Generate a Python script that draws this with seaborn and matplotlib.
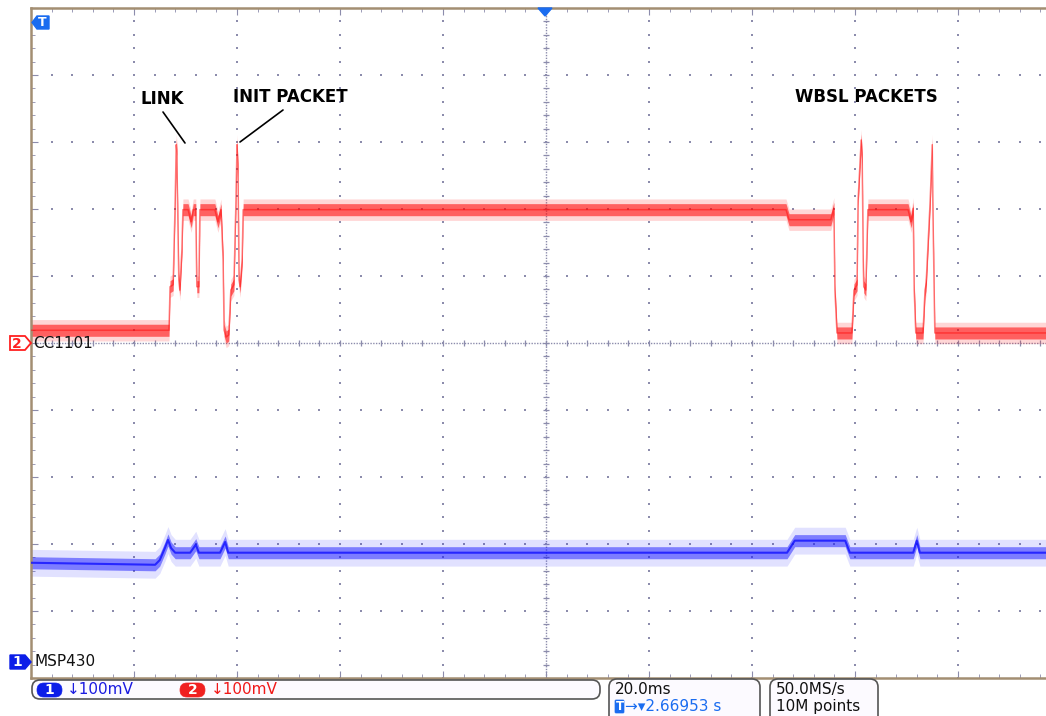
import numpy as np
import pandas as pd
import seaborn as sns
import matplotlib.pyplot as plt
from matplotlib.patches import Polygon, FancyBboxPatch
from matplotlib.lines import Line2D
from matplotlib.transforms import Affine2D

# channel 2 (CC1101) - time in ms, level in mV above its ground marker
cc_t = [0, 26.8, 27.0, 27.6, 28.0, 28.2, 28.3, 28.7, 28.9, 29.3, 29.5, 30.5, 31.1, 31.5,
        32.0, 32.2, 32.6, 32.8, 35.7, 36.3, 36.9, 37.3, 37.5, 37.9, 38.4, 38.8, 39.4, 39.8,
        40.0, 40.2, 40.4, 40.6, 41.0, 41.2, 146.6, 147.2, 155.3, 155.9, 156.1, 156.5,
        159.4, 159.8, 160.4, 160.6, 161.2, 161.4, 161.6, 161.7, 162.1, 162.5, 170.3,
        170.9, 171.3, 171.5, 171.8, 173.2, 173.6, 173.8, 174.6, 175.0, 175.1, 175.5, 200]
cc_mv = [19, 19, 84, 87, 213, 296, 288, 94, 79, 139, 199, 199, 181, 199,
         199, 84, 84, 199, 199, 181, 199, 124, 19, 9, 12, 79, 87, 213,
         296, 258, 94, 84, 124, 199, 199, 184, 184, 201, 79, 15,
         15, 79, 87, 213, 303, 273, 124, 84, 79, 199, 199,
         181, 201, 79, 15, 15, 79, 87, 213, 296, 213, 15, 15]

# channel 1 (MSP430)
msp_t = [0, 24.1, 25.0, 26.0, 26.6, 27.2, 28.0, 30.9, 32.0, 32.6, 36.7, 37.7, 38.3,
         146.8, 148.3, 158.1, 159.0, 171.3, 172.0, 172.6, 200]
msp_mv = [148, 145, 152, 170, 182, 170, 163, 163, 175, 163, 163, 179, 163,
          163, 181, 181, 163, 163, 181, 163, 163]

ms_per_div = 20
mv_per_div = 100
CH2_OFFSET = 0.0      # divisions from screen centre
CH1_OFFSET = -4.76

sns.set_style('white')
plt.rcParams['font.family'] = ['DejaVu Sans']

W, H = 1046, 716
fig = plt.figure(figsize=(W / 100, H / 100), dpi=100)
fig.patch.set_facecolor('white')
# pixel coords, y down
pxT = Affine2D().scale(1 / W, -1 / H).translate(0, 1) + fig.transFigure

ax = fig.add_axes([31 / W, 1 - 678 / H, 1030 / W, 670 / H])
ax.set_xlim(0, 10 * ms_per_div)
ax.set_ylim(-5, 5)

# graticule
gcol = '#8c8cac'
minor_y = np.arange(-5, 5.001, 0.2)
minor_x = np.arange(0, 200.01, 4)
for k in range(1, 10):
    if k == 5:
        continue
    ax.scatter(np.full(minor_y.size, k * ms_per_div), minor_y, s=3, marker='s',
               color=gcol, linewidths=0, zorder=1)
for j in range(-4, 5):
    if j == 0:
        continue
    ax.scatter(minor_x, np.full(minor_x.size, j), s=3, marker='s',
               color=gcol, linewidths=0, zorder=1)
ax.axvline(100, ls=(0, (1, 1)), color=gcol, lw=1, zorder=1)
ax.axhline(0, ls=(0, (1, 1)), color=gcol, lw=1, zorder=1)
ax.scatter(np.full(minor_y.size, 100), minor_y, marker='_', s=14, color=gcol, lw=0.9, zorder=1)
ax.scatter(minor_x, np.zeros(minor_x.size), marker='|', s=14, color=gcol, lw=0.9, zorder=1)

ax.set_xticks(np.arange(0, 201, 20))
ax.set_xticks(minor_x, minor=True)
ax.set_yticks(np.arange(-5, 6, 1))
ax.set_yticks(minor_y, minor=True)
ax.tick_params(which='both', direction='in', top=True, bottom=True, left=True, right=False,
               labelbottom=False, labelleft=False, color=gcol)
ax.tick_params(which='major', length=5)
ax.tick_params(which='minor', length=3)
for side in ['left', 'top', 'bottom']:
    ax.spines[side].set_color('#a38e72')
    ax.spines[side].set_linewidth(1.8)
ax.spines['right'].set_visible(False)

# traces
cc = pd.DataFrame({'t': cc_t, 'mv': cc_mv})
cc['div'] = cc['mv'] / mv_per_div + CH2_OFFSET
msp = pd.DataFrame({'t': msp_t, 'mv': msp_mv})
msp['div'] = msp['mv'] / mv_per_div + CH1_OFFSET

ax.fill_between(cc['t'], cc['div'] - 0.16, cc['div'] + 0.16, color='#ff0000', alpha=0.16, lw=0, zorder=2)
ax.fill_between(cc['t'], cc['div'] - 0.09, cc['div'] + 0.09, color='#ff0000', alpha=0.55, lw=0, zorder=2)
sns.lineplot(data=cc, x='t', y='div', color='#ff1010', lw=1.1, alpha=0.55,
             estimator=None, sort=False, ax=ax, zorder=3)

ax.fill_between(msp['t'], msp['div'] - 0.2, msp['div'] + 0.2, color='#1a1aff', alpha=0.13, lw=0, zorder=2)
ax.fill_between(msp['t'], msp['div'] - 0.09, msp['div'] + 0.09, color='#1a1aff', alpha=0.5, lw=0, zorder=2)
sns.lineplot(data=msp, x='t', y='div', color='#1010ff', lw=1.5, alpha=0.8,
             estimator=None, sort=False, ax=ax, zorder=3)
ax.set_xlabel('')
ax.set_ylabel('')

# annotations
lab = dict(fontsize=12, fontweight='bold', color='black', va='center', ha='left', transform=pxT)
fig.text(141, 99.5, 'LINK', **lab)
fig.text(233, 97.5, 'INIT PACKET', **lab)
fig.text(795, 97, 'WBSL PACKETS', **lab)
fig.add_artist(Line2D([163, 185], [112, 143], color='black', lw=1.2, transform=pxT))
fig.add_artist(Line2D([283, 240], [110, 142], color='black', lw=1.2, transform=pxT))

# channel markers
fig.add_artist(Polygon([(10, 336), (25, 336), (31, 343), (25, 350), (10, 350)], closed=True,
                       facecolor='white', edgecolor='#ff2020', lw=1.3, transform=pxT))
fig.text(17, 343.5, '2', color='#ff2020', fontsize=10, fontweight='bold', ha='center', va='center', transform=pxT)
fig.text(33, 343, 'CC1101', color='#111111', fontsize=11, ha='left', va='center', transform=pxT)

fig.add_artist(Polygon([(10, 655), (25, 655), (31, 662), (25, 669), (10, 669)], closed=True,
                       facecolor='#0c1ee8', edgecolor='#0c1ee8', lw=1, transform=pxT))
fig.text(17, 662.5, '1', color='white', fontsize=10, fontweight='bold', ha='center', va='center', transform=pxT)
fig.text(35, 662, 'MSP430', color='#111111', fontsize=11, ha='left', va='center', transform=pxT)

# trigger markers
fig.add_artist(Polygon([(32, 22.5), (37, 16), (49, 16), (49, 29), (37, 29)], closed=True,
                       facecolor='#1a6cf0', edgecolor='#1a6cf0', transform=pxT))
fig.text(42.5, 23, 'T', color='white', fontsize=9, fontweight='bold', ha='center', va='center', transform=pxT)
fig.add_artist(Polygon([(538, 8), (552, 8), (545, 16)], closed=True,
                       facecolor='#1a6cf0', edgecolor='#1a6cf0', transform=pxT))

# status bar
def box(x, y, w, h, r, fc, ec, lw=1.2):
    fig.add_artist(FancyBboxPatch((x, y), w, h, boxstyle=f'round,pad=0,rounding_size={r}',
                                  facecolor=fc, edgecolor=ec, lw=lw, transform=pxT))

box(32, 680, 568, 19, 8, '#fcfaff', '#555555')
box(37, 683, 25, 14, 7, '#0c1ee8', '#0c1ee8', 0.5)
fig.text(49.5, 690.5, '1', color='white', fontsize=10, fontweight='bold', ha='center', va='center', transform=pxT)
fig.text(67, 690, '↓100mV', color='#1a1ae0', fontsize=11, ha='left', va='center', transform=pxT)
box(180, 683, 25, 14, 7, '#f02020', '#f02020', 0.5)
fig.text(192.5, 690.5, '2', color='white', fontsize=10, fontweight='bold', ha='center', va='center', transform=pxT)
fig.text(211, 690, '↓100mV', color='#f01818', fontsize=11, ha='left', va='center', transform=pxT)

box(609, 679, 151, 45, 8, '#fcfaff', '#555555')
fig.text(615, 689.5, '20.0ms', color='#111111', fontsize=11, ha='left', va='center', transform=pxT)
box(615, 700, 9, 13, 1, '#1a6cf0', '#1a6cf0', 0.5)
fig.text(619.5, 706.5, 'T', color='white', fontsize=8.5, fontweight='bold', ha='center', va='center', transform=pxT)
fig.text(625, 706.5, '→▾2.66953 s', color='#1a6cf0', fontsize=11, ha='left', va='center', transform=pxT)

box(770, 679, 108, 45, 8, '#fcfaff', '#555555')
fig.text(776, 689.5, '50.0MS/s', color='#111111', fontsize=11, ha='left', va='center', transform=pxT)
fig.text(776, 706.5, '10M points', color='#111111', fontsize=11, ha='left', va='center', transform=pxT)

fig.savefig('out.png', dpi=100, facecolor='white')
